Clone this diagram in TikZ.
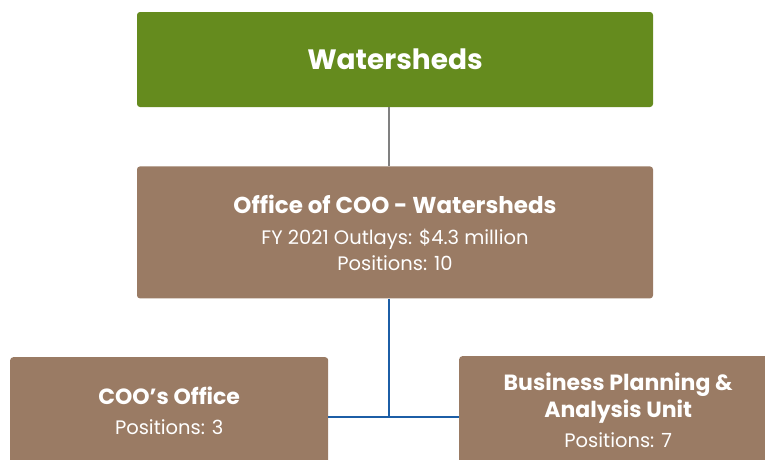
\documentclass[tikz,border=0pt]{standalone}
\usepackage{fontspec}
\setmainfont{Poppins}
\usepackage{xcolor}
\usetikzlibrary{positioning}

\definecolor{shedgreen}{HTML}{658B1E}
\definecolor{officebrown}{HTML}{9A7B64}
\definecolor{linkblue}{HTML}{1C5EA6}
\definecolor{linkgray}{HTML}{808080}

\begin{document}
\begin{tikzpicture}[
  x=1pt, y=1pt,
  division/.style={fill=shedgreen, rounded corners=3pt, minimum width=516pt, minimum height=95pt, text=white, font=\fontsize{28}{34}\selectfont\bfseries},
  office/.style={fill=officebrown, rounded corners=3pt, minimum width=516pt, minimum height=132pt, text=white, align=center, font=\fontsize{19.5}{26}\selectfont},
  unit/.style={fill=officebrown, rounded corners=3pt, minimum width=318pt, anchor=north west, text=white, align=center, text depth=90pt, font=\fontsize{19.5}{26}\selectfont},
  link/.style={line width=2pt}
]
\useasboundingbox (0,0) rectangle (765,-459);
\clip (0,0) rectangle (765,-459);

\node[division] (sheds) at (395,-59.5) {Watersheds};
\node[office, below=59pt of sheds] (cooffice) {{\fontsize{23}{28}\selectfont\bfseries Office of COO - Watersheds}\\[5pt]FY 2021 Outlays: \$4.3 million\\Positions: 10};
\node[unit, inner ysep=30pt] (coo) at (10,-357) {{\fontsize{22}{28}\selectfont\bfseries COO’s Office}\\[4pt]Positions: 3};
\node[unit, inner ysep=17pt] (bpa) at (459,-356) {{\fontsize{22}{28}\selectfont\bfseries Business Planning \&}\\[1pt]{\fontsize{22}{28}\selectfont\bfseries Analysis Unit}\\[4pt]Positions: 7};

\coordinate (hub) at ([xshift=-6pt]cooffice.south |- 0,-417);
\draw[link, linkgray] ([xshift=-6pt]sheds.south) -- ([xshift=-6pt]cooffice.north);
\draw[link, linkblue] ([xshift=-6pt]cooffice.south) -- (hub);
\draw[link, linkblue] (coo.east |- hub) -- (bpa.west |- hub);
\end{tikzpicture}
\end{document}
